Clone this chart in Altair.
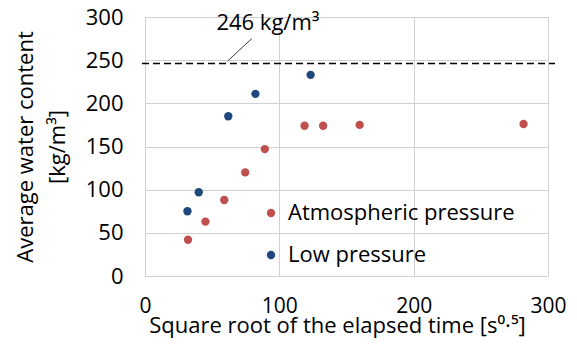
import altair as alt
import pandas as pd

# Data
atm_x = [32, 45, 59, 74.6, 89.2, 118.8, 132.6, 159.8, 281.8]
atm_y = [42, 63, 88, 120, 147, 174, 174, 175, 176]
low_x = [31.6, 40, 62, 82.2, 123.3]
low_y = [75, 97, 185, 211, 233]
series = ["Atmospheric pressure", "Low pressure"]
colors = ["#C0504D", "#1F497D"]

ref_value = [246]
ref_label = ["246 kg/m\u00b3"]
label_pos_x = [91.5]
label_pos_y = [285]
leader_x = [61.5]
leader_y = [249]
leader_x2 = [79.5]
leader_y2 = [275]

x_ticks = [0, 100, 200, 300]
y_ticks = [0, 50, 100, 150, 200, 250, 300]

FONT = "Open Sans"
W, H = 403, 259

df = pd.DataFrame({
    "x": atm_x + low_x,
    "y": atm_y + low_y,
    "series": [series[0]] * len(atm_x) + [series[1]] * len(low_x),
})

xs = alt.Scale(domain=[0, 300], nice=False)
ys = alt.Scale(domain=[0, 300], nice=False)

points = alt.Chart(df).mark_circle(size=70, opacity=1).encode(
    x=alt.X("x:Q", scale=xs,
            axis=alt.Axis(values=x_ticks, title="Square root of the elapsed time [s\u2070\u00b7\u2075]",
                          grid=True, gridColor="#D0D0D0", domain=False, ticks=False,
                          labelFontSize=21, titleFontSize=22, labelFont=FONT, titleFont=FONT,
                          labelColor="#000", titleColor="#000", titleFontWeight="normal",
                          labelPadding=19, labelFlush=False,
                          titleX=192, titleY=39, titleBaseline="top", titleAlign="center")),
    y=alt.Y("y:Q", scale=ys,
            axis=alt.Axis(values=y_ticks, title=["Average water content", "[kg/m\u00b3]"],
                          grid=True, gridColor="#D0D0D0", domain=False, ticks=False,
                          labelFontSize=22, titleFontSize=22, labelFont=FONT, titleFont=FONT,
                          labelColor="#000", titleColor="#000", titleFontWeight="normal",
                          labelPadding=22, titlePadding=16, titleLineHeight=32)),
    color=alt.Color("series:N", scale=alt.Scale(domain=series, range=colors),
                    legend=alt.Legend(title=None, orient="none", legendX=115, legendY=185,
                                      labelFont=FONT, labelFontSize=22, labelColor="#000",
                                      symbolSize=70, symbolType="circle", rowPadding=20,
                                      labelOffset=6, padding=0, labelLimit=400)),
)

ref_df = pd.DataFrame({"y": ref_value})
ref_line = alt.Chart(ref_df).mark_rule(color="#000", strokeWidth=1.5, strokeDash=[7, 4]).encode(
    y="y:Q", x=alt.value(-3), x2=alt.value(W + 7)
)

lead_df = pd.DataFrame({"x": leader_x, "y": leader_y, "x2": leader_x2, "y2": leader_y2})
leader = alt.Chart(lead_df).mark_rule(color="#404040", strokeWidth=1).encode(
    x="x:Q", y="y:Q", x2="x2:Q", y2="y2:Q"
)

lab_df = pd.DataFrame({"x": label_pos_x, "y": label_pos_y, "t": ref_label})
label = alt.Chart(lab_df).mark_text(font=FONT, fontSize=22, color="#000", baseline="alphabetic",
                                    align="center", clip=False).encode(
    x="x:Q", y="y:Q", text="t:N"
)

chart = alt.layer(points, ref_line, leader, label).properties(
    width=W, height=H,
    autosize=alt.AutoSizeParams(type="none"),
    padding={"left": 137, "top": 9, "right": 21, "bottom": 77},
).configure_view(stroke="#C8C8C8", strokeWidth=1).configure(background="white")

chart.save("out.html", embed_options={"renderer": "svg", "actions": False})
